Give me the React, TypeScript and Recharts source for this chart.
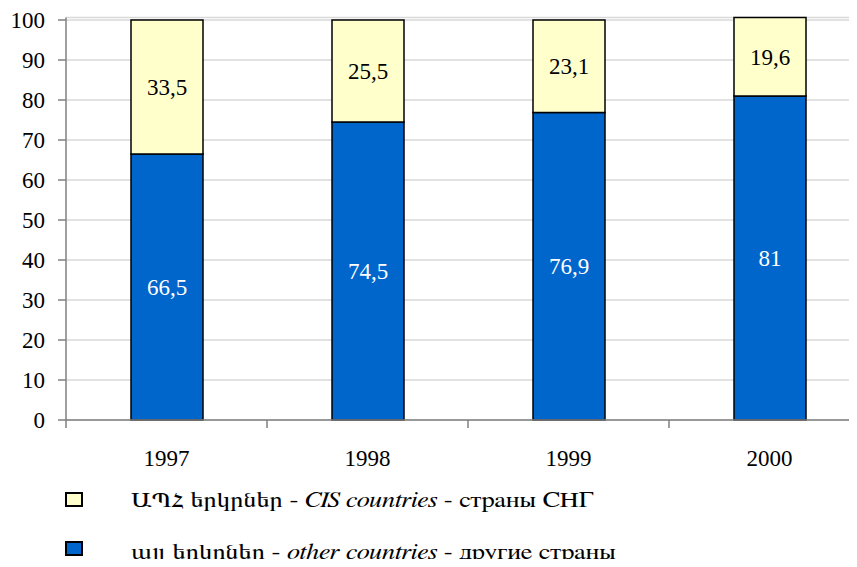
import React from 'react';
import { BarChart, Bar, XAxis, YAxis, CartesianGrid, LabelList } from 'recharts';

const years = ['1997', '1998', '1999', '2000'];
const otherCountries = [66.5, 74.5, 76.9, 81];
const cisCountries = [33.5, 25.5, 23.1, 19.6];
const yTicks = [0, 10, 20, 30, 40, 50, 60, 70, 80, 90, 100];

const data = years.map((y, i) => ({ year: y, pos: i + 0.5, other: otherCountries[i], cis: cisCountries[i] }));
const xTicks: number[] = [];
for (let i = 0; i <= years.length; i++) {
  xTicks.push(i);
  if (i < years.length) xTicks.push(i + 0.5);
}

const FONT = 'Liberation Serif';
const LEGEND_FONT = 'FreeSerif';
const fmt = (v: any) => String(v).replace('.', ',');

const XTick = (props: any) => {
  const { x, y, payload } = props;
  const v = payload.value;
  if (Number.isInteger(v)) {
    return <line x1={x} y1={y} x2={x} y2={y + 8} stroke="#808080" strokeWidth={1.5} />;
  }
  const idx = Math.floor(v);
  return (
    <text x={x} y={y + 46} textAnchor="middle" fontFamily={FONT} fontSize={23} fill="#000">
      {years[idx]}
    </text>
  );
};

export default function App() {
  return (
    <div style={{ position: 'relative', width: 857, height: 567, overflow: 'hidden', margin: -8, background: '#fff' }}>
      <BarChart width={870} height={567} data={data} margin={{ top: 17.6, right: 0, left: 0, bottom: 0 }}>
        <CartesianGrid horizontal={true} vertical={false} stroke="#d9d9d9" strokeWidth={1.5} />
        <XAxis
          dataKey="pos"
          type="number"
          domain={[0, years.length]}
          ticks={xTicks}
          interval={0}
          tickLine={false}
          tickSize={0}
          tickMargin={0}
          tick={<XTick />}
          axisLine={{ stroke: '#808080', strokeWidth: 1.5 }}
          height={147}
        />
        <YAxis
          domain={[0, 100]}
          ticks={yTicks}
          interval={0}
          width={66}
          tickSize={8}
          tickMargin={13}
          tickLine={{ stroke: '#808080', strokeWidth: 1.5 }}
          axisLine={{ stroke: '#808080', strokeWidth: 1.5 }}
          tick={{ fontFamily: FONT, fontSize: 23, fill: '#000' }}
        />
        <Bar dataKey="other" stackId="a" fill="#0066CC" stroke="#000" strokeWidth={1.5} barSize={72} isAnimationActive={false}>
          <LabelList dataKey="other" position="center" formatter={fmt} fill="#fff" fontFamily={FONT} fontSize={23} />
        </Bar>
        <Bar dataKey="cis" stackId="a" fill="#FFFFCC" stroke="#000" strokeWidth={1.5} barSize={72} isAnimationActive={false}>
          <LabelList dataKey="cis" position="center" formatter={fmt} fill="#000" fontFamily={FONT} fontSize={23} />
        </Bar>
      </BarChart>
      <svg width={857} height={90} style={{ position: 'absolute', left: 0, top: 477 }}>
        <rect x={66} y={16} width={16} height={13} fill="#FFFFCC" stroke="#000" strokeWidth={2} />
        <g transform="translate(131,30) scale(1.2,1)">
          <text x={0} y={0} fontFamily={LEGEND_FONT} fontSize={22} fill="#000">
            ԱՊՀ երկրներ - <tspan fontStyle="italic">CIS countries</tspan> - страны СНГ
          </text>
        </g>
        <rect x={66} y={65} width={16} height={13} fill="#0066CC" stroke="#000" strokeWidth={2} />
        <g transform="translate(131,82) scale(1.2,1)">
          <text x={0} y={0} fontFamily={LEGEND_FONT} fontSize={22} fill="#000">
            այլ երկրներ - <tspan fontStyle="italic">other countries</tspan> - другие страны
          </text>
        </g>
      </svg>
    </div>
  );
}
